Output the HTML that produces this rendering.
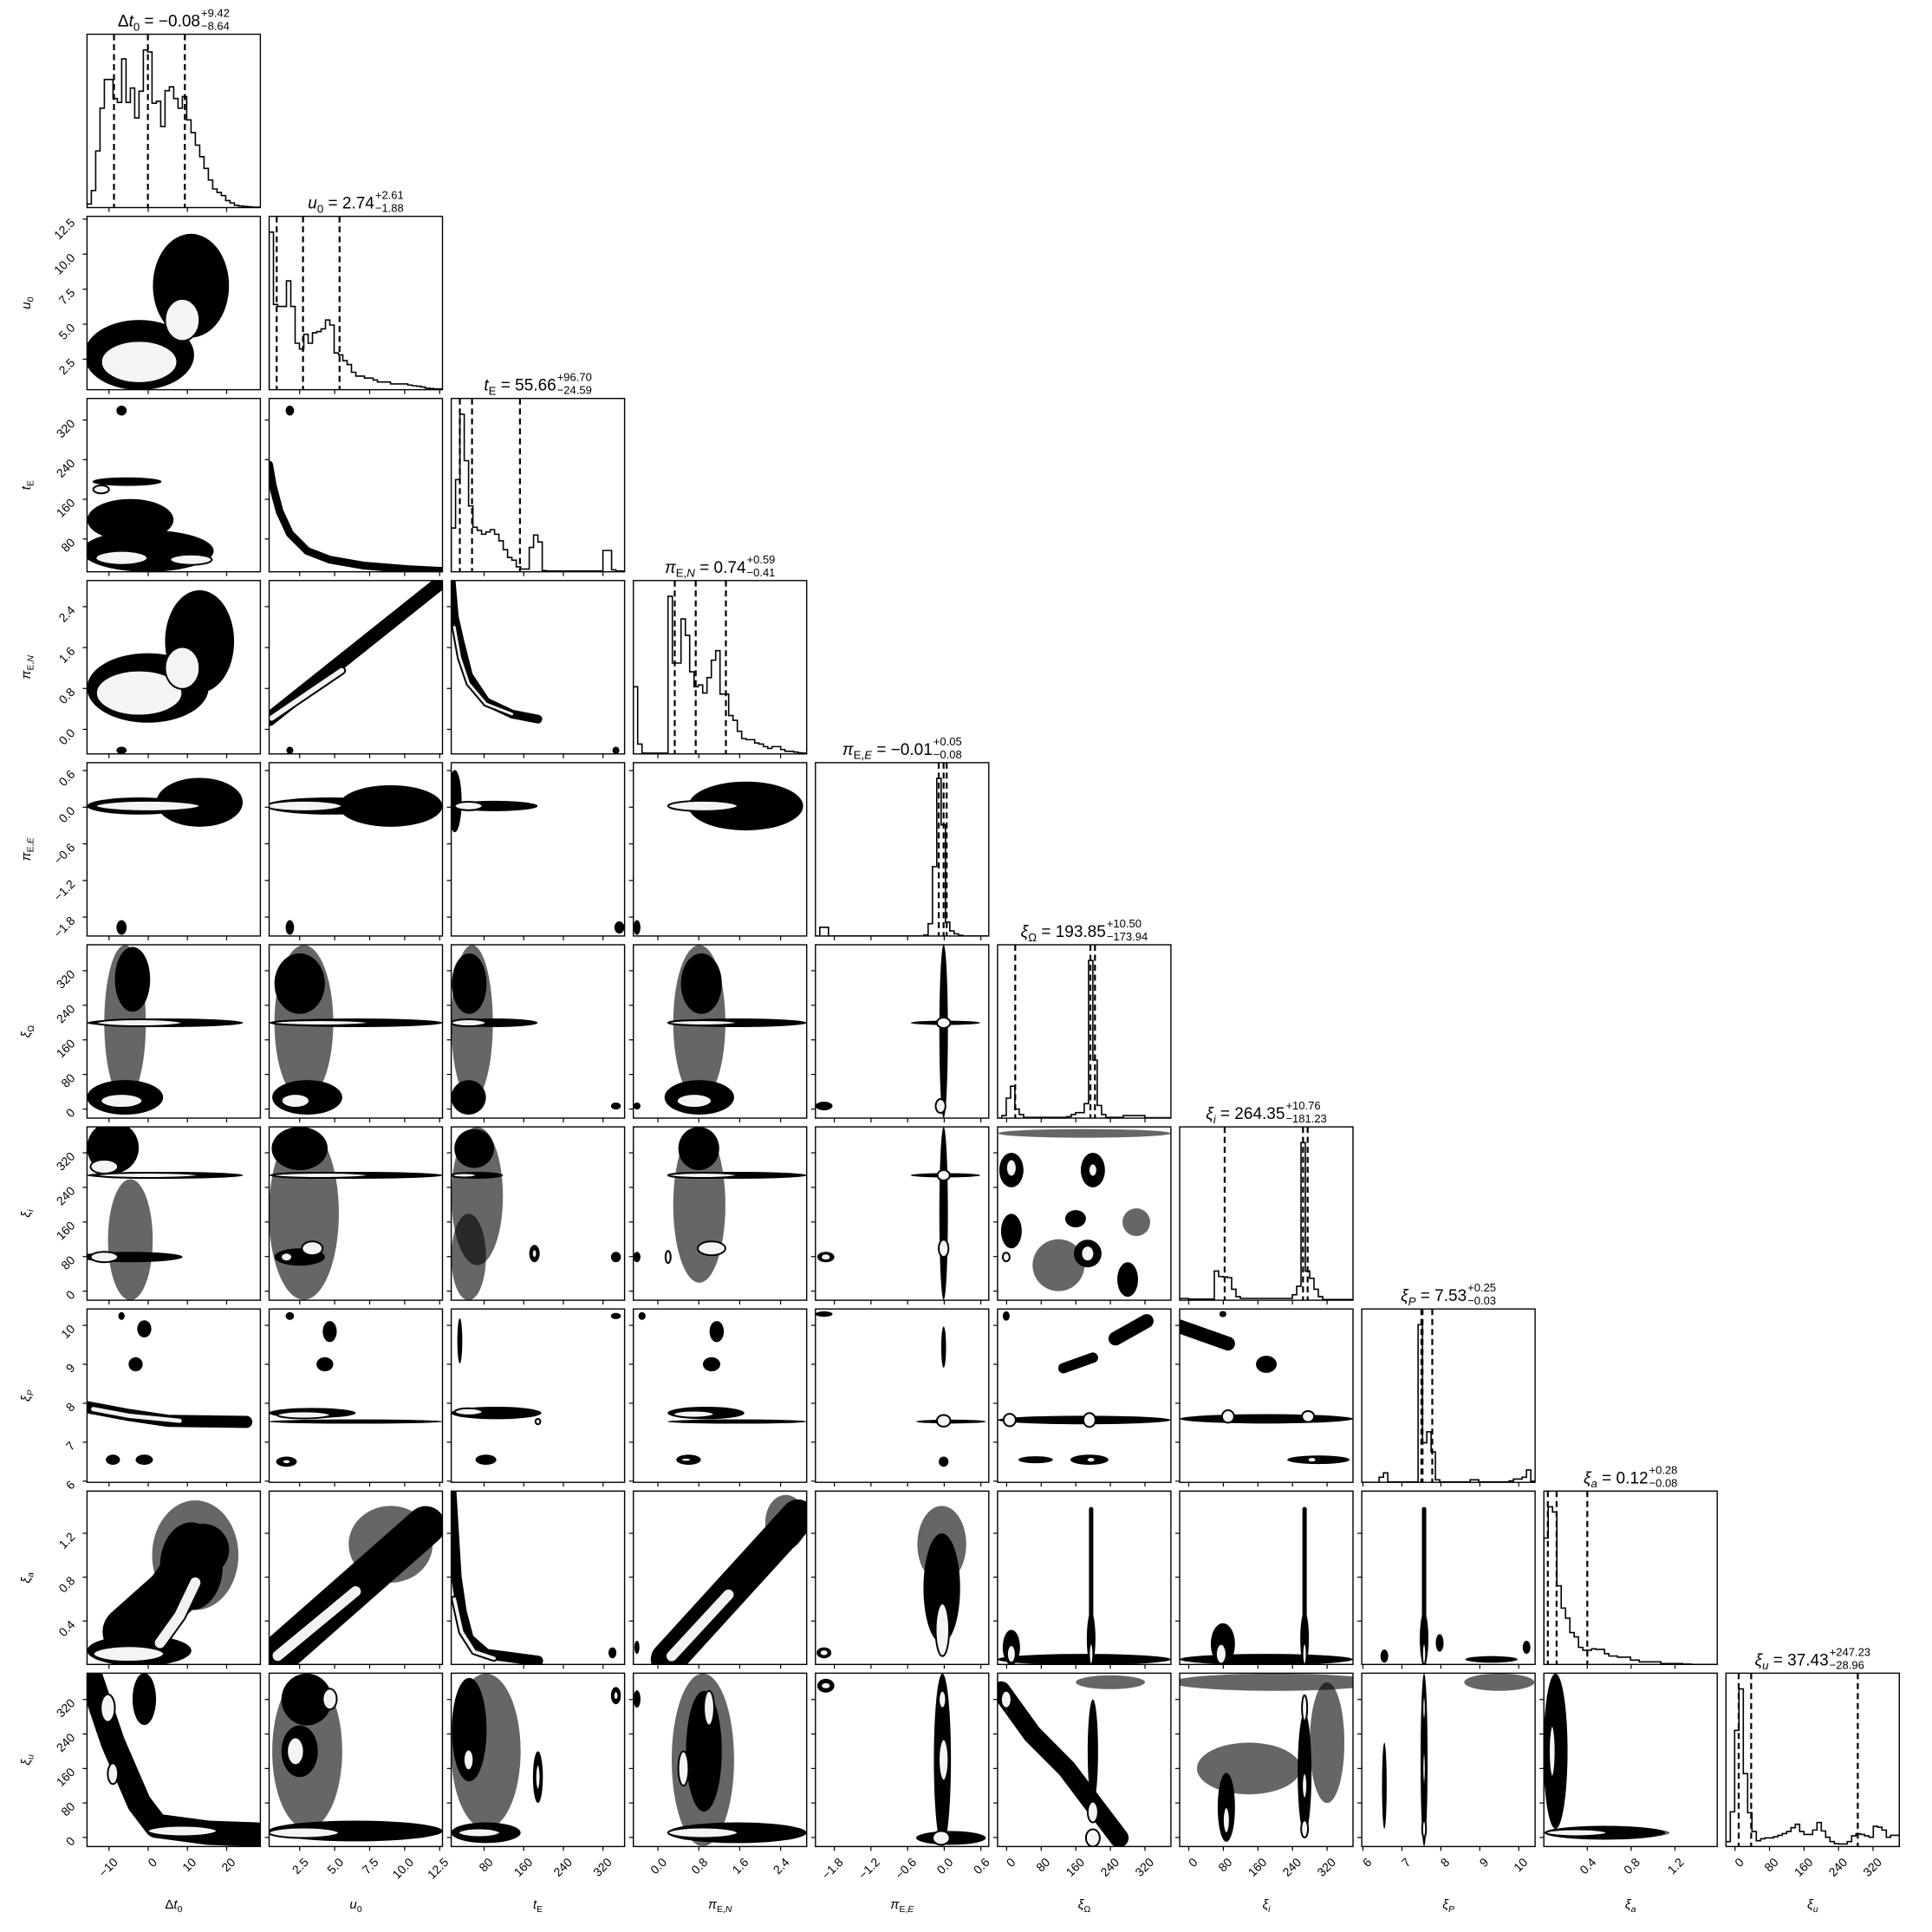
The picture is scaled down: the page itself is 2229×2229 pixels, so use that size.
<!DOCTYPE html>
<html><head><meta charset="utf-8"><style>
html,body{margin:0;padding:0;background:#fff;}
svg{display:block;font-family:"Liberation Sans","DejaVu Sans",sans-serif;}
</style></head><body>
<svg id="fig" xmlns="http://www.w3.org/2000/svg" width="2229" height="2229" viewBox="0 0 2229 2229"><rect width="2229" height="2229" fill="#fff"/></svg>
<script>
// ---- axis ranges per parameter ----
const ranges = [[-15.6,28.6],[0.32,12.7],[13.7,363.5],[-0.48,2.91],[-2.11,0.73],[-21,380],[-21,380],[5.97,10.42],[0.004,1.585],[-21,381]];
const tickVals = [[-10,0,10,20],[2.5,5,7.5,10,12.5],[80,160,240,320],[0,0.8,1.6,2.4],[-1.8,-1.2,-0.6,0,0.6],[0,80,160,240,320],[0,80,160,240,320],[6,7,8,9,10],[0.4,0.8,1.2],[0,80,160,240,320]];
const tickText = [["−10","0","10","20"],["2.5","5.0","7.5","10.0","12.5"],["80","160","240","320"],["0.0","0.8","1.6","2.4"],["−1.8","−1.2","−0.6","0.0","0.6"],["0","80","160","240","320"],["0","80","160","240","320"],["6","7","8","9","10"],["0.4","0.8","1.2"],["0","80","160","240","320"]];
// ---- 1D histograms (40 bins) ----
const h0 = [9,44,146,256,330,330,281,271,383,271,308,231,300,406,401,269,274,209,301,311,281,256,286,226,193,161,131,101,71,48,39,31,18,12,6,4,3,2,1,1];
const h1 = [407,220,215,215,281,215,120,105,143,120,147,150,157,180,167,95,90,75,65,45,35,35,30,30,25,20,20,20,15,15,15,15,12,10,9,7,4,3,2,2];
const h2 = [113,238,407,287,170,115,107,97,103,109,97,80,57,37,30,13,7,7,63,95,77,3,2,2,2,2,2,2,2,2,2,2,2,2,2,55,55,5,2,2];
const h3 = [184,27,2,2,2,2,2,2,432,249,249,370,325,225,184,189,167,209,257,283,164,164,105,92,62,42,39,39,30,27,20,15,20,20,12,7,7,5,3,2];
const h4 = [0,24,24,0,0,0,0,0,0,0,0,0,0,0,0,0,0,0,0,0,0,0,0,0,0,3,34,191,434,306,38,14,6,2,0,0,0,0,0,0];
const h5 = [0,7,55,88,25,10,2,2,2,2,2,2,2,2,2,2,4,10,15,15,40,435,160,35,10,2,2,2,2,7,7,7,7,7,1,1,1,1,1,1];
const h6 = [5,5,3,3,3,3,3,3,80,65,64,62,30,10,5,5,5,5,5,5,5,5,5,5,5,5,15,38,432,80,60,30,10,2,2,2,2,2,2,2];
const h7 = [0,0,0,0,14,26,1,1,1,1,1,1,1,434,109,139,84,7,1,1,1,1,1,1,1,7,7,1,1,1,1,1,1,1,4,9,9,14,34,3];
const h8 = [437,545,527,272,195,160,110,95,59,49,49,54,52,52,37,29,29,25,25,25,15,15,9,9,9,9,9,3,3,3,3,3,1,1,0,0,0,0,0,0];
const h9 = [17,120,402,545,252,117,52,20,27,30,30,34,39,45,52,65,77,52,42,42,57,83,54,32,17,10,9,9,17,37,44,42,37,32,70,67,57,32,39,39];
const hists = [h0,h1,h2,h3,h4,h5,h6,h7,h8,h9];
const quantiles = [[-8.72,-0.08,9.34],[0.86,2.74,5.35],[31.07,55.66,152.36],[0.33,0.74,1.33],[-0.09,-0.01,0.04],[19.91,193.85,204.35],[83.12,264.35,275.11],[7.50,7.53,7.78],[0.04,0.12,0.40],[8.47,37.43,284.66]];
const titleVals = ["−0.08","2.74","55.66","0.74","−0.01","193.85","264.35","7.53","0.12","37.43"];
const titlePlus = ["+9.42","+2.61","+96.70","+0.59","+0.05","+10.50","+10.76","+0.25","+0.28","+247.23"];
const titleMinus = ["−8.64","−1.88","−24.59","−0.41","−0.08","−173.94","−181.23","−0.03","−0.08","−28.96"];
const names = ["dt0","u0","tE","piEN","piEE","xi-omega","xi-i","xi-p","xi-a","xi-u"];
// ---- 2D density structures: [row,col,x,y,rx,ry] in data units ----
const clouds = [
[1,0,10.9,7.75,9.7,3.7],[1,0,-2.3,2.8,14,2.5],
[2,0,-0.1,55.7,16.8,42],[2,0,-4.55,118.6,11,42],[2,0,-5.4,195.6,8.8,8.7],[2,0,-6.8,339,1.3,10],[2,1,1.8,339,0.3,10],
[3,0,13.1,1.72,8.8,1.0],[3,0,-0.1,0.81,15.5,0.68],[3,0,-6.8,-0.41,1.3,0.07],[3,1,1.8,-0.41,0.25,0.07],[3,2,346,-0.41,7,0.07],
[4,0,13.1,0.08,11,0.4],[4,0,-2.3,0.02,13.3,0.14],[4,0,-6.8,-1.97,1.3,0.12],[4,1,8.99,0.02,3.7,0.34],[4,1,4.65,0.02,4.6,0.14],[4,1,1.8,-1.97,0.3,0.12],
[4,2,20.7,0.1,14,0.51],[4,2,101,0.02,87,0.085],[4,2,353,-1.97,10,0.1],[4,3,1.72,0.02,1.12,0.4],[4,3,-0.41,-1.97,0.07,0.12],
[5,0,-5.9,27,9.7,40],[5,0,4.3,199.5,19.9,10],[5,0,-4,300,4.5,75],[5,1,3.04,27,2.5,40],[5,1,6.5,199.5,6.2,10],[5,1,2.5,290,1.8,70],
[5,2,48.7,27,35,40],[5,2,101,199.5,87,10],[5,2,346,7,10,8],[5,2,50,290,35,70],[5,3,0.81,27,0.68,40],[5,3,1.55,199.5,1.36,10],[5,3,-0.41,7,0.07,8],[5,3,0.85,290,0.4,70],
[5,4,-0.01,180,0.07,200],[5,4,0.02,199.5,0.57,5],[5,4,-1.97,7,0.14,10],
[6,0,-9,332,6.6,60],[6,0,4.3,268,19.9,8],[6,0,-4.55,79,13.3,12],[6,1,2.5,330,2,50],[6,1,6.5,268,6.2,8],[6,1,2.5,79,1.8,20],
[6,2,66,268,52,8],[6,2,60,330,40,45],[6,2,181.6,87,10.5,20],[6,2,346,79,10,12],[6,3,1.55,268,1.36,8],[6,3,0.8,330,0.4,50],[6,3,-0.41,79,0.07,12],
[6,4,-0.01,180,0.07,200],[6,4,0.02,268,0.57,5],[6,4,-1.94,79,0.14,12],
[6,5,11,280,28,40],[6,5,199.5,280,28,40],[6,5,159.5,167.5,24,20],[6,5,11,139,24,40],[6,5,187.5,87,32,32],[6,5,280,27,24,40],
[7,0,-1.0,9.91,1.8,0.22],[7,0,-3.2,9.0,1.8,0.18],[7,0,-9,6.55,1.8,0.13],[7,0,-1,6.55,2.2,0.13],[7,0,-6.8,10.24,0.8,0.1],
[7,1,1.8,10.24,0.3,0.1],[7,1,4.65,9.84,0.5,0.27],[7,1,4.3,9.0,0.6,0.18],[7,1,3.4,7.75,3.1,0.13],[7,1,6.5,7.53,6.2,0.055],[7,1,1.56,6.5,0.74,0.13],
[7,2,31,9.6,5,0.58],[7,2,104.6,7.75,91,0.16],[7,2,346,10.24,10,0.08],[7,2,83.7,6.55,21,0.13],
[7,3,-0.31,10.24,0.07,0.1],[7,3,1.15,9.84,0.14,0.27],[7,3,1.05,9.0,0.17,0.18],[7,3,0.94,7.75,0.75,0.16],[7,3,1.55,7.53,1.36,0.055],[7,3,0.6,6.55,0.24,0.13],
[7,4,-0.01,9.44,0.04,0.53],[7,4,0.11,7.53,0.57,0.05],[7,4,-0.01,6.5,0.08,0.13],[7,4,-1.97,10.29,0.14,0.07],
[7,5,179.5,7.57,200,0.11],[7,5,-1,10.24,8,0.12],[7,5,67.2,6.55,40,0.09],[7,5,191.5,6.55,44,0.13],
[7,6,179.5,7.6,200,0.12],[7,6,179.5,9.0,24,0.22],[7,6,79,10.29,8,0.08],[7,6,300,6.55,72,0.11],
[8,0,-2.3,0.13,13.3,0.14],[8,0,11,0.9,8,0.4],[8,2,339,0.11,8,0.05],[8,3,-0.41,0.16,0.05,0.06],
[8,4,-0.04,0.7,0.3,0.5],[8,4,-1.97,0.11,0.12,0.05],
[8,5,195.5,0.24,10,0.24],[8,5,179.5,0.05,200,0.05],[8,5,11,0.16,20,0.16],
[8,6,268,0.24,10,0.24],[8,6,179.5,0.05,200,0.05],[8,6,79,0.19,28,0.19],
[8,7,7.57,0.24,0.11,0.24],[8,7,6.55,0.08,0.1,0.06],[8,7,7.97,0.2,0.1,0.08],[8,7,10.2,0.16,0.1,0.06],[8,7,9.3,0.05,0.67,0.03],
[9,0,-1,321,3,60],[9,1,6.5,15,6.2,24],[9,1,3,320,1.8,60],[9,1,2.5,200,1.3,60],
[9,2,83.7,11,70,24],[9,2,50,250,35,120],[9,2,188.6,140,10,60],[9,2,346,329,10,20],
[9,3,1.55,11,1.36,24],[9,3,0.9,200,0.35,140],[9,3,-0.41,321,0.07,20],
[9,4,-0.03,180,0.14,200],[9,4,0.11,-1,0.57,16],[9,4,-1.94,352,0.14,16],
[9,5,199.5,200,12,120],[9,6,268,150,16,140],[9,6,87,70,20,80],
[9,7,7.57,180,0.09,200],[9,7,6.55,120,0.06,100],[9,8,0.11,200,0.11,180],[9,8,0.56,11,0.55,16]
];
const sparse = [
[5,0,-5.9,199.5,5.3,180],[5,1,2.8,199.5,2.1,180],[5,2,55.7,199.5,42,180],[5,3,0.81,199.5,0.51,180],
[6,0,-4.55,119,5.7,140],[6,1,2.8,180,2.5,200],[6,2,66,220,52,160],[6,2,48.7,79,35,100],[6,3,0.81,199.5,0.51,180],
[6,5,300,159.5,32,32],[6,5,180,365,200,10],[6,5,120,60,60,60],
[8,0,12,1.0,11,0.5],[8,1,9,1.1,3,0.35],[8,3,2.5,1.3,0.4,0.25],[8,4,-0.04,1.1,0.4,0.35],
[9,1,3.04,200,2.5,180],[9,2,83.7,200,70,180],[9,3,0.88,180,0.61,200],[9,5,240,360,80,16],
[9,6,139,160,120,60],[9,6,320,220,40,140],[9,6,200,360,240,20],[9,7,9.5,360,0.9,20],[9,8,0.85,11,0.3,10]
];
const cores = [
[1,0,-2.3,2.3,9.7,1.5],[1,0,8.7,5.3,4.4,1.5],
[2,0,-6.8,41.7,6.6,14],[2,0,10.9,38.2,5.3,10.5],[2,0,-12,180,2,8],
[3,0,-2.3,0.71,11,0.44],[3,0,8.7,1.2,4.4,0.41],
[4,0,-0.1,0.02,13.3,0.085],[4,1,2.8,0.02,2.7,0.085],[4,2,48.7,0.02,28,0.07],[4,3,0.88,0.02,0.68,0.085],
[5,0,-2.3,199.5,11,8],[5,0,-6.8,19,5.3,16],[5,1,4.0,199.5,3.5,6],[5,1,2.2,19,1.0,16],[5,2,48.7,199.5,35,8],
[5,3,0.88,199.5,0.68,6],[5,3,0.71,19,0.34,16],[5,4,-0.01,199.5,0.11,12],[5,4,-0.06,7,0.08,16],
[6,0,-0.1,268,13.3,6],[6,0,-11.2,288,3.5,16],[6,0,-11.2,79,3.5,12],[6,1,4.0,268,3.5,6],[6,1,3.4,99,0.74,16],[6,1,1.56,79,0.4,10],
[6,2,181.6,87,5,10],[6,2,40,268,25,5],[6,3,0.88,268,0.68,6],[6,3,1.05,99,0.27,16],[6,3,0.2,79,0.05,14],
[6,4,-0.01,268,0.1,12],[6,4,-0.01,99,0.08,20],[6,4,-1.94,79,0.08,8],
[6,5,11,285,12,20],[6,5,199.5,280,10,15],[6,5,-1,79,8,10],[6,5,187.5,87,15,18],
[7,1,2.8,7.7,1.9,0.09],[7,1,1.56,6.5,0.3,0.06],[7,2,48.7,7.78,28,0.09],[7,2,188.6,7.53,5,0.07],
[7,3,0.7,7.72,0.4,0.09],[7,3,0.55,6.55,0.1,0.05],[7,4,-0.01,7.55,0.11,0.15],
[7,5,7,7.57,14,0.16],[7,5,191.5,7.57,14,0.18],[7,5,195,6.55,10,0.07],
[7,6,91,7.66,14,0.16],[7,6,276,7.66,14,0.14],[7,6,285,6.55,10,0.07],
[8,0,-5,0.1,9,0.07],[8,4,-0.03,0.32,0.11,0.24],[8,4,-1.97,0.11,0.07,0.03],
[8,5,195.5,0.1,5,0.1],[8,5,11,0.1,10,0.08],[8,6,268,0.1,5,0.1],[8,6,75,0.1,12,0.09],[8,7,7.57,0.1,0.05,0.1],
[9,0,-10.3,300,1.8,32],[9,0,8.7,15,8.8,12],[9,0,-9,148,1.3,24],
[9,1,2.8,11,2.5,12],[9,1,2.2,200,0.6,32],[9,1,4.65,321,0.5,24],
[9,2,70,11,42,10],[9,2,48.7,180,10,24],[9,2,188.6,140,5,30],[9,2,346,329,5,10],
[9,3,0.88,11,0.68,12],[9,3,0.5,160,0.1,40],[9,3,1.0,300,0.1,40],
[9,4,-0.05,-1,0.14,16],[9,4,-0.01,180,0.08,48],[9,4,-0.03,320,0.06,20],[9,4,-1.94,352,0.08,8],
[9,5,199.5,-1,16,20],[9,5,199.5,59,12,24],[9,5,-1,320,12,20],
[9,6,268,20,8,20],[9,6,268,120,6,30],[9,6,268,300,6,30],[9,6,87,40,8,30],
[9,7,7.57,20,0.05,20],[9,7,7.57,160,0.04,40],[9,7,7.57,300,0.04,30],
[9,8,0.3,11,0.28,8],[9,8,0.08,200,0.03,60]
];
// streaks: [row,col,widthPx, x1,y1, x2,y2, ...]
const streaks = [
[2,1,9, 0.32,230, 0.57,188.6, 1.06,136, 1.8,90.7, 3.04,55.7, 4.65,38.2, 7.13,26, 10.2,19, 12.7,15.5],
[3,1,16, 0.32,0.2, 12.7,2.9],
[3,2,10, 13.7,2.9, 20,2.2, 31.2,1.72, 48.7,1.05, 83.7,0.54, 136,0.3, 188.6,0.2],
[7,0,14, -15.6,7.9, -5,7.7, 5,7.55, 25,7.52],
[7,5,12, 131.4,8.9, 199.5,9.17],[7,5,16, 251.7,9.66, 323.9,10.11],
[7,6,16, -21,9.97, 91,9.53],
[8,0,60, -5,0.3, 6,0.65, 14,1.05],
[8,1,45, 0.94,0.083, 11.5,1.27],
[8,2,12, 13.7,1.58, 24.2,0.8, 34.7,0.48, 48.7,0.24, 83.7,0.1, 188.6,0.036],
[8,3,40, 0.2,0.05, 2.74,1.35],
[8,5,5, 195.5,0.03, 195.5,1.42],[8,6,5, 268,0.03, 268,1.42],[8,7,5, 7.57,0.03, 7.57,1.42],
[9,0,28, -14.7,373, -9,220, -2.3,79.5, 2.1,27, 15.3,11, 27.7,7],
[9,5,22, -13,340, 59,240, 139,159.5, 199.5,79, 260,-1]
];
const coreStreaks = [
[3,1,6, 0.5,0.22, 5.5,1.15],
[3,2,3, 20,2.0, 31.2,1.4, 48.7,0.9, 83.7,0.5, 136,0.3],
[7,0,5, -14,7.85, -5,7.68, 8,7.55],
[8,0,12, 3,0.2, 8,0.45, 12,0.75],
[8,1,12, 0.94,0.083, 6.5,0.67],
[8,2,4, 20,0.6, 34.7,0.3, 60,0.12, 100,0.06],
[8,3,12, 0.27,0.08, 1.38,0.64]
];

const NS='http://www.w3.org/2000/svg';
const svg=document.getElementById('fig');
const X0=100.4, Y0=39.5, S=200, STEP=210.1;
function mk(tag, attrs, parent){const e=document.createElementNS(NS,tag);for(const k in attrs)e.setAttribute(k,attrs[k]);parent.appendChild(e);return e;}
function sx(c,v){const r=ranges[c];return X0+c*STEP+(v-r[0])/(r[1]-r[0])*S;}
function sy(row,v){const r=ranges[row];return Y0+row*STEP+S-(v-r[0])/(r[1]-r[0])*S;}
function pxw(c,d){const r=ranges[c];return d/(r[1]-r[0])*S;}
const syms=[[["Δ",""],["t","i"],["0","s"]],[["u","i"],["0","s"]],[["t","i"],["E","s"]],[["π","i"],["E,","s"],["N","si"]],[["π","i"],["E,","s"],["E","si"]],[["ξ","i"],["Ω","s"]],[["ξ","i"],["i","si"]],[["ξ","i"],["P","si"]],[["ξ","i"],["a","si"]],[["ξ","i"],["u","si"]]];
function addSym(t,i,fs){let down=false;for(const p of syms[i]){const ts=mk('tspan',{},t);ts.textContent=p[0];if(p[1].indexOf('i')>=0)ts.setAttribute('font-style','italic');if(p[1][0]==='s'){ts.setAttribute('font-size',(fs*0.7)+'px');if(!down){ts.setAttribute('dy',fs*0.25);down=true;}}else if(down){ts.setAttribute('dy',-fs*0.25);down=false;}}return down;}
const defs=mk('defs',{},svg);

for(let r=0;r<10;r++){for(let c=0;c<=r;c++){
  const px=X0+c*STEP, py=Y0+r*STEP;
  const g=mk('g',{},svg);
  
  
  const cp=mk('clipPath',{id:'cp'+r+'_'+c},defs);mk('rect',{x:px,y:py,width:S,height:S},cp);
  const inner=mk('g',{'clip-path':'url(#cp'+r+'_'+c+')'},g);
  if(r===c){
    const h=hists[c];const n=h.length;const mx=Math.max(...h)*1.1;const bw=S/n;
    let d='M'+px+','+(py+S);
    for(let i=0;i<n;i++){const y=py+S-h[i]/mx*S;d+=' L'+(px+i*bw)+','+y+' L'+(px+(i+1)*bw)+','+y;}
    d+=' L'+(px+S)+','+(py+S);
    const hp=mk('path',{d:d,fill:'none',stroke:'#000','stroke-width':1.6},inner);
    
    
    for(const q of quantiles[c]){const x=sx(c,q);
      const ql=mk('line',{x1:x,x2:x,y1:py,y2:py+S,stroke:'#000','stroke-width':2.2,'stroke-dasharray':'7,4.5'},inner);
      
      }
  } else {
    for(const s of sparse){if(s[0]!==r||s[1]!==c)continue;
      const e=mk('ellipse',{cx:sx(c,s[2]),cy:sy(r,s[3]),rx:pxw(c,s[4]),ry:pxw(r,s[5]),fill:'#000','fill-opacity':0.6},inner);
      
      }
    for(const s of clouds){if(s[0]!==r||s[1]!==c)continue;
      const e=mk('ellipse',{cx:sx(c,s[2]),cy:sy(r,s[3]),rx:pxw(c,s[4]),ry:pxw(r,s[5]),fill:'#000'},inner);
      
      }
    for(const s of streaks){if(s[0]!==r||s[1]!==c)continue;
      let pts=[];for(let k=3;k<s.length;k+=2)pts.push(sx(c,s[k])+','+sy(r,s[k+1]));
      const e=mk('polyline',{points:pts.join(' '),fill:'none',stroke:'#000','stroke-width':s[2],'stroke-linecap':'round','stroke-linejoin':'round'},inner);
      
      }
    for(const s of coreStreaks){if(s[0]!==r||s[1]!==c)continue;
      let pts=[];for(let k=3;k<s.length;k+=2)pts.push(sx(c,s[k])+','+sy(r,s[k+1]));
      mk('polyline',{points:pts.join(' '),fill:'none',stroke:'#000','stroke-width':s[2]+4,'stroke-linecap':'round','stroke-linejoin':'round'},inner);
      const e=mk('polyline',{points:pts.join(' '),fill:'none',stroke:'#f2f2f2','stroke-width':s[2],'stroke-linecap':'round','stroke-linejoin':'round'},inner);
      
      }
    for(const s of cores){if(s[0]!==r||s[1]!==c)continue;
      const e=mk('ellipse',{cx:sx(c,s[2]),cy:sy(r,s[3]),rx:pxw(c,s[4]),ry:pxw(r,s[5]),fill:'#f4f4f4',stroke:'#000','stroke-width':2},inner);
      
      }
  }
  const fr=mk('rect',{x:px,y:py,width:S,height:S,fill:'none',stroke:'#000','stroke-width':1.4},g);
  
  
  tickVals[c].forEach((v,k)=>{const x=sx(c,v);mk('line',{x1:x,x2:x,y1:py+S,y2:py+S+5,stroke:'#000','stroke-width':1.2},g);
    if(r===9){const t=mk('text',{x:x+11,y:py+S+19,'text-anchor':'end','font-size':'14px',transform:'rotate(-45 '+(x+11)+' '+(py+S+19)+')'},g);
      t.textContent=tickText[c][k];
      
      }});
  if(r!==c){tickVals[r].forEach((v,k)=>{const y=sy(r,v);mk('line',{x1:px-5,x2:px,y1:y,y2:y,stroke:'#000','stroke-width':1.2},g);
    if(c===0){const t=mk('text',{x:px-13,y:y+5,'text-anchor':'end','font-size':'14px',transform:'rotate(-45 '+(px-13)+' '+(y+5)+')'},g);
      t.textContent=tickText[r][k];
      
      }});}
}}
// titles
for(let i=0;i<10;i++){
  const px=X0+i*STEP, py=Y0+i*STEP, fs=19;
  const g=mk('g',{},svg);
  
  
  const t=mk('text',{x:0,y:py-9,'font-size':fs+'px'},g);
  const dn=addSym(t,i,fs);
  const eq=mk('tspan',{},t);eq.textContent=' = '+titleVals[i];if(dn)eq.setAttribute('dy',-fs*0.25);
  const sp=mk('text',{x:0,y:py-20,'font-size':'13px'},g);sp.textContent=titlePlus[i];
  const sb=mk('text',{x:0,y:py-5,'font-size':'13px'},g);sb.textContent=titleMinus[i];
  const w1=t.getComputedTextLength(), w2=Math.max(sp.getComputedTextLength(),sb.getComputedTextLength());
  const x0=px+S/2-(w1+w2+1)/2;
  t.setAttribute('x',x0);sp.setAttribute('x',x0+w1+1);sb.setAttribute('x',x0+w1+1);
}
// axis labels
for(let i=0;i<10;i++){
  const cx=X0+i*STEP+S/2;
  const t=mk('text',{x:cx,y:2202,'text-anchor':'middle','font-size':'15px'},svg);
  addSym(t,i,15);
  
  
  if(i>0){const cy=Y0+i*STEP+S/2;
    const u=mk('text',{x:35,y:cy,'text-anchor':'middle','font-size':'15px',transform:'rotate(-90 35 '+cy+')'},svg);
    addSym(u,i,15);
    
    }
}
</script>
</body></html>
